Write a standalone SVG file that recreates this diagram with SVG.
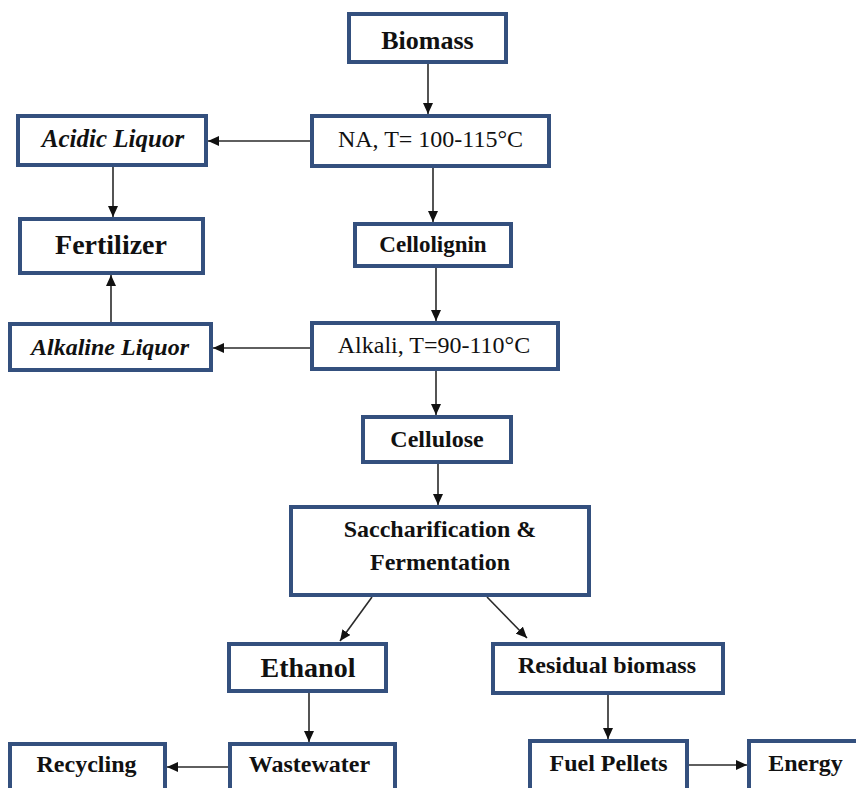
<svg xmlns="http://www.w3.org/2000/svg" width="856" height="788" viewBox="0 0 856 788" font-family="Liberation Serif, Tinos, Times New Roman, Times, DejaVu Serif, serif">
<style>
.box{fill:#ffffff;stroke:#34507e;stroke-width:4}
.t{text-anchor:middle;fill:#111}
.b{font-weight:bold}
.i{font-style:italic}
.c{stroke:#2a2a2a;stroke-width:1.6;fill:none;marker-end:url(#ah)}
</style>
<defs>
<marker id="ah" markerUnits="userSpaceOnUse" markerWidth="11" markerHeight="10" refX="11" refY="5" orient="auto">
<path d="M0,0 L11,5 L0,10 z" fill="#111"/>
</marker>
</defs>
<rect width="856" height="788" fill="#ffffff"/>
<g id="connectors">
<line class="c" x1="428" y1="64" x2="428" y2="114"/>
<line class="c" x1="310" y1="141" x2="208" y2="141"/>
<line class="c" x1="113" y1="167" x2="113" y2="217"/>
<line class="c" x1="433" y1="168" x2="433" y2="222"/>
<line class="c" x1="436" y1="268" x2="436" y2="321"/>
<line class="c" x1="111" y1="322" x2="111" y2="275"/>
<line class="c" x1="310" y1="348" x2="213" y2="348"/>
<line class="c" x1="436" y1="371" x2="436" y2="415"/>
<line class="c" x1="438" y1="464" x2="438" y2="505"/>
<line class="c" x1="372" y1="597" x2="340" y2="641"/>
<line class="c" x1="487" y1="597" x2="527" y2="638"/>
<line class="c" x1="309" y1="693" x2="309" y2="742"/>
<line class="c" x1="228" y1="767" x2="167" y2="767"/>
<line class="c" x1="608" y1="695" x2="608" y2="739"/>
<line class="c" x1="689" y1="765" x2="747" y2="765"/>
</g>
<g id="biomass"><rect class="box" x="349" y="14" width="157" height="48"/><text class="t b" x="427.5" y="49" font-size="26">Biomass</text></g>
<g id="na"><rect class="box" x="312" y="116" width="237" height="50"/><text class="t" x="430.5" y="147" font-size="24">NA, T= 100-115°C</text></g>
<g id="acidic"><rect class="box" x="18" y="116" width="188" height="49"/><text class="t b i" x="113" y="147" font-size="25">Acidic Liquor</text></g>
<g id="fertilizer"><rect class="box" x="20" y="219" width="183" height="54"/><text class="t b" x="111" y="254" font-size="28">Fertilizer</text></g>
<g id="cellolignin"><rect class="box" x="355" y="224" width="156" height="42"/><text class="t b" x="433" y="252" font-size="23">Cellolignin</text></g>
<g id="alkaline"><rect class="box" x="10" y="324" width="201" height="46"/><text class="t b i" x="110" y="355" font-size="24">Alkaline Liquor</text></g>
<g id="alkali"><rect class="box" x="312" y="323" width="246" height="46"/><text class="t" x="434" y="353" font-size="24">Alkali, T=90-110°C</text></g>
<g id="cellulose"><rect class="box" x="363" y="417" width="148" height="45"/><text class="t b" x="437" y="447" font-size="24">Cellulose</text></g>
<g id="sacch"><rect class="box" x="291" y="507" width="298" height="88"/><text class="t b" x="440" y="537" font-size="24">Saccharification &amp;</text><text class="t b" x="440" y="570" font-size="24">Fermentation</text></g>
<g id="ethanol"><rect class="box" x="229" y="644" width="157" height="47"/><text class="t b" x="308" y="677" font-size="28">Ethanol</text></g>
<g id="residual"><rect class="box" x="493" y="644" width="230" height="49"/><text class="t b" x="607" y="673" font-size="24">Residual biomass</text></g>
<g id="fuel"><rect class="box" x="530" y="741" width="157" height="60"/><text class="t b" x="608.5" y="771" font-size="24">Fuel Pellets</text></g>
<g id="energy"><rect class="box" x="749" y="741" width="130" height="60"/><text class="t b" x="805.5" y="771" font-size="24">Energy</text></g>
<g id="wastewater"><rect class="box" x="230" y="744" width="165" height="60"/><text class="t b" x="309.5" y="772" font-size="24">Wastewater</text></g>
<g id="recycling"><rect class="box" x="10" y="744" width="155" height="60"/><text class="t b" x="86.5" y="772" font-size="24">Recycling</text></g>
</svg>
